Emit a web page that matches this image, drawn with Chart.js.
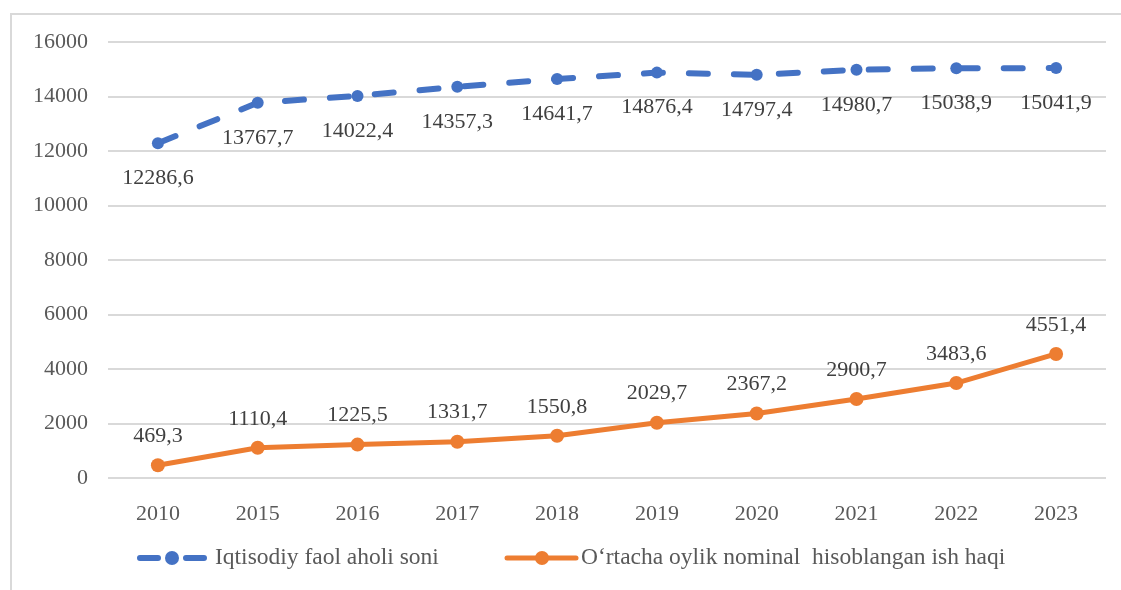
<!DOCTYPE html>
<html>
<head>
<meta charset="utf-8">
<script src="https://cdn.jsdelivr.net/npm/chart.js@4"></script>
<style>
  html, body { margin: 0; padding: 0; background: #fff; }
  #wrap { position: relative; width: 1121px; height: 590px; overflow: hidden; }
  #frame {
    position: absolute; left: 10px; top: 13px; width: 1200px; height: 700px;
    border-left: 2px solid #d9d9d9; border-top: 2px solid #d9d9d9;
  }
  #chart { position: absolute; left: 0; top: 0; }
</style>
</head>
<body>
<div id="wrap">
  <div id="frame"></div>
  <canvas id="chart" width="1121" height="590"></canvas>
</div>
<script>
const years = ["2010", "2015", "2016", "2017", "2018", "2019", "2020", "2021", "2022", "2023"];
const activePopulation = [12286.6, 13767.7, 14022.4, 14357.3, 14641.7, 14876.4, 14797.4, 14980.7, 15038.9, 15041.9];
const averageWage = [469.3, 1110.4, 1225.5, 1331.7, 1550.8, 2029.7, 2367.2, 2900.7, 3483.6, 4551.4];
const yTicks = [0, 2000, 4000, 6000, 8000, 10000, 12000, 14000, 16000];
const seriesNames = ["Iqtisodiy faol aholi soni", "O\u2018rtacha oylik nominal  hisoblangan ish haqi"];

const blue = "#4472c4";
const orange = "#ed7d31";
const textColor = "#595959";
const serif = '"Liberation Serif", "Times New Roman", serif';

const fmt = (v) => v.toFixed(1).replace(".", ",");

// value labels: blue below the points, orange above
const valueLabels = {
  id: "valueLabels",
  afterDatasetsDraw(chart) {
    const ctx = chart.ctx;
    ctx.save();
    ctx.font = "22px " + serif;
    ctx.fillStyle = "#404040";
    ctx.textAlign = "center";
    ctx.textBaseline = "middle";
    chart.data.datasets.forEach((ds, i) => {
      const meta = chart.getDatasetMeta(i);
      meta.data.forEach((pt, j) => {
        const dy = i === 0 ? 35 : -29;
        ctx.fillText(fmt(ds.data[j]), pt.x, pt.y + dy);
      });
    });
    ctx.restore();
  }
};

// legend drawn by hand so the samples show line + marker
const lineLegend = {
  id: "lineLegend",
  afterDraw(chart) {
    const ctx = chart.ctx;
    const y = 558;
    ctx.save();
    ctx.lineCap = "round";
    // blue dashed sample
    ctx.strokeStyle = blue;
    ctx.lineWidth = 6;
    ctx.beginPath();
    ctx.moveTo(140, y); ctx.lineTo(158, y);
    ctx.moveTo(186, y); ctx.lineTo(204, y);
    ctx.stroke();
    ctx.fillStyle = blue;
    ctx.beginPath(); ctx.arc(172, y, 7, 0, Math.PI * 2); ctx.fill();
    // orange solid sample
    ctx.strokeStyle = orange;
    ctx.lineWidth = 5;
    ctx.beginPath(); ctx.moveTo(507, y); ctx.lineTo(576, y); ctx.stroke();
    ctx.fillStyle = orange;
    ctx.beginPath(); ctx.arc(542, y, 7, 0, Math.PI * 2); ctx.fill();

    ctx.font = "23.5px " + serif;
    ctx.fillStyle = textColor;
    ctx.textBaseline = "middle";
    ctx.textAlign = "left";
    ctx.fillText(seriesNames[0], 215, y);
    ctx.fillText(seriesNames[1], 581, y);
    ctx.restore();
  }
};

new Chart(document.getElementById("chart"), {
  type: "line",
  data: {
    labels: years,
    datasets: [
      {
        label: seriesNames[0],
        data: activePopulation,
        borderColor: blue,
        backgroundColor: blue,
        borderWidth: 6,
        borderDash: [19, 26],
        borderCapStyle: "round",
        pointRadius: 6,
        pointBorderWidth: 0,
        tension: 0,
        fill: false
      },
      {
        label: seriesNames[1],
        data: averageWage,
        borderColor: orange,
        backgroundColor: orange,
        borderWidth: 5,
        pointRadius: 7,
        pointBorderWidth: 0,
        tension: 0,
        fill: false
      }
    ]
  },
  options: {
    responsive: false,
    animation: false,
    events: [],
    layout: { padding: { left: 20, right: 15, top: 42, bottom: 0 } },
    plugins: {
      legend: { display: false },
      tooltip: { enabled: false }
    },
    scales: {
      x: {
        offset: true,
        grid: { display: false },
        border: { display: false },
        ticks: { color: textColor, font: { family: serif, size: 22 }, padding: 15 },
        afterFit: (s) => { s.height = 112; }
      },
      y: {
        min: 0,
        max: 16000,
        afterBuildTicks: (s) => { s.ticks = yTicks.map((v) => ({ value: v })); },
        grid: { color: "#d9d9d9", lineWidth: 2, drawTicks: false },
        border: { display: false },
        ticks: {
          color: textColor,
          font: { family: serif, size: 22 },
          padding: 20,
          callback: (v) => String(v)
        },
        afterFit: (s) => { s.width = 88; }
      }
    }
  },
  plugins: [valueLabels, lineLegend]
});
</script>
</body>
</html>
